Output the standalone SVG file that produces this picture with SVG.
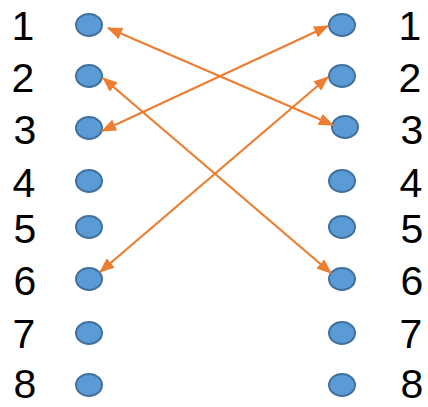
<svg xmlns="http://www.w3.org/2000/svg" width="428" height="407" viewBox="0 0 428 407">
<style>
.pin{fill:#5B9BD5;stroke:#41719C;stroke-width:2}
.lbl{font-family:"Liberation Sans",Arial,sans-serif;font-size:41px;fill:#000;text-anchor:middle}
.wire{stroke:#ED7D31;stroke-width:2.25;fill:none;marker-start:url(#ah);marker-end:url(#ah)}
</style>
<defs>
<marker id="ah" markerUnits="userSpaceOnUse" markerWidth="15" markerHeight="12" refX="14" refY="6" orient="auto-start-reverse">
<path d="M0,0 L15,6 L0,12 z" fill="#ED7D31"/>
</marker>
</defs>
<rect width="428" height="407" fill="#fff"/>
<g id="left-pins">
<g id="L1"><ellipse class="pin" cx="89" cy="25" rx="13" ry="11"/><text class="lbl" x="23" y="40">1</text></g>
<g id="L2"><ellipse class="pin" cx="89" cy="76" rx="13" ry="11"/><text class="lbl" x="23" y="92">2</text></g>
<g id="L3"><ellipse class="pin" cx="89" cy="128" rx="13" ry="11"/><text class="lbl" x="25" y="144">3</text></g>
<g id="L4"><ellipse class="pin" cx="89" cy="181" rx="13" ry="11"/><text class="lbl" x="24" y="197">4</text></g>
<g id="L5"><ellipse class="pin" cx="89" cy="227" rx="13" ry="11"/><text class="lbl" x="25" y="243">5</text></g>
<g id="L6"><ellipse class="pin" cx="89" cy="279" rx="13" ry="11"/><text class="lbl" x="25" y="295">6</text></g>
<g id="L7"><ellipse class="pin" cx="89" cy="333" rx="13" ry="11"/><text class="lbl" x="24" y="348">7</text></g>
<g id="L8"><ellipse class="pin" cx="89" cy="385" rx="13" ry="11"/><text class="lbl" x="25" y="398">8</text></g>
</g>
<g id="right-pins">
<g id="R1"><ellipse class="pin" cx="342" cy="25" rx="13" ry="11"/><text class="lbl" x="410" y="40">1</text></g>
<g id="R2"><ellipse class="pin" cx="342" cy="76" rx="13" ry="11"/><text class="lbl" x="410" y="92">2</text></g>
<g id="R3"><ellipse class="pin" cx="345" cy="127" rx="13" ry="11"/><text class="lbl" x="412" y="144">3</text></g>
<g id="R4"><ellipse class="pin" cx="342" cy="181" rx="13" ry="11"/><text class="lbl" x="411" y="197">4</text></g>
<g id="R5"><ellipse class="pin" cx="342" cy="227" rx="13" ry="11"/><text class="lbl" x="412" y="243">5</text></g>
<g id="R6"><ellipse class="pin" cx="342" cy="279" rx="13" ry="11"/><text class="lbl" x="412" y="295">6</text></g>
<g id="R7"><ellipse class="pin" cx="342" cy="333" rx="13" ry="11"/><text class="lbl" x="411" y="348">7</text></g>
<g id="R8"><ellipse class="pin" cx="342" cy="385" rx="13" ry="11"/><text class="lbl" x="412" y="398">8</text></g>
</g>
<g id="connectors">
<line class="wire" x1="108" y1="28" x2="333" y2="125"/>
<line class="wire" x1="103" y1="78" x2="331" y2="273"/>
<line class="wire" x1="102" y1="131" x2="328" y2="26"/>
<line class="wire" x1="100" y1="272" x2="328" y2="77"/>
</g>
</svg>
